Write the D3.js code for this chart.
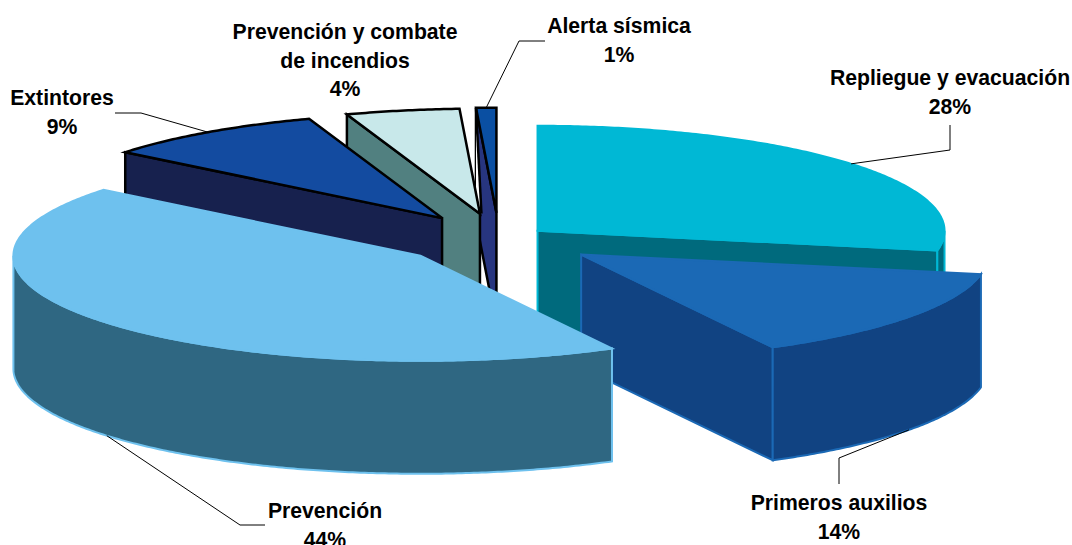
<!DOCTYPE html>
<html>
<head>
<meta charset="utf-8">
<script src="https://cdnjs.cloudflare.com/ajax/libs/d3/7.8.5/d3.min.js"></script>
<style>
	html, body { margin: 0; padding: 0; background: #fff; overflow: hidden; }
	text { font-family: "Liberation Sans", Arial, sans-serif; font-weight: bold; font-size: 21.2px; fill: #000; }
</style>
</head>
<body>
<script>
var categories = ["Repliegue y evacuación", "Primeros auxilios", "Prevención", "Extintores", "Prevención y combate de incendios", "Alerta sísmica"];
var values = [28, 14.2, 43.6, 8.9, 4.5, 0.8];
var labelLines = [["Repliegue y evacuación"], ["Primeros auxilios"], ["Prevención"], ["Extintores"], ["Prevención y combate", "de incendios"], ["Alerta sísmica"]];

// looks
var topColors = ["#00b8d5", "#1b69b5", "#6ec1ee", "#134ba0", "#c8e8ea", "#0a4fa2"];
var wallColors = ["#006a7d", "#114382", "#2f6782", "#17214e", "#518080", "#27357f"];
var strokeColors = ["#00b8d5", "#1b69b5", "#6ec1ee", "#000", "#000", "#000"];
var strokeWidths = [2, 2, 2, 2.5, 2.5, 2.5];

// pie layout, explode is how far each slice is pulled out of the middle
var width = 1072, height = 545;
var cx = 499, cy = 239, rx = 407, ry = 105, depth = 113;
var explode = [50, 102, 102, 99, 100, 102];
var drawOrder = [5, 4, 3, 0, 1, 2];

// label centre and first baseline, leader elbows (null = no leader)
var labelX = [950, 839, 325, 62, 345, 619];
var labelY = [85, 510, 518, 105, 39, 33];
var lineGap = 28.5;
var leaders = [[[950, 150], [950, 125]], [[839, 458], [839, 484]], [[240, 525], [265, 525]], [[141, 113], [115, 113]], null, [[519, 41], [545, 41]]];

var svg = d3.select("body").append("svg")
	.attr("width", width)
	.attr("height", height)
	.style("display", "block");

var pie = d3.pie().sort(null).startAngle(0).endAngle(2 * Math.PI);
var slices = pie(values);

var line = d3.line();

slices.forEach(function(d) {
	d.mid = (d.startAngle + d.endAngle) / 2;
	d.cx = cx + explode[d.index] * Math.sin(d.mid);
	d.cy = cy - explode[d.index] * Math.cos(d.mid) * ry / rx;
});

function rimPoint(d, a, drop) {
	return [d.cx + rx * Math.sin(a), d.cy - ry * Math.cos(a) + (drop || 0)];
}

function arcPoints(d, a0, a1, drop) {
	var n = Math.max(2, Math.ceil((a1 - a0) / 0.01));
	return d3.range(n + 1).map(function(i) {
		return rimPoint(d, a0 + (a1 - a0) * i / n, drop);
	});
}

function radialWall(d, a) {
	var p = rimPoint(d, a);
	return [[d.cx, d.cy], p, [p[0], p[1] + depth], [d.cx, d.cy + depth]];
}

function face(g, pts, fill, i) {
	g.append("path")
		.attr("d", line(pts) + "Z")
		.attr("fill", fill)
		.attr("stroke", strokeColors[i])
		.attr("stroke-width", strokeWidths[i])
		.attr("stroke-linejoin", "miter");
}

drawOrder.forEach(function(i) {
	var d = slices[i];
	var g = svg.append("g").attr("class", "slice");

	// only the walls that face the viewer
	if (Math.sin(d.startAngle) < -1e-6) face(g, radialWall(d, d.startAngle), wallColors[i], i);
	if (Math.sin(d.endAngle) > 1e-6) face(g, radialWall(d, d.endAngle), wallColors[i], i);

	var a0 = Math.max(d.startAngle, Math.PI / 2);
	var a1 = Math.min(d.endAngle, 3 * Math.PI / 2);
	if (a1 > a0) {
		face(g, arcPoints(d, a0, a1, 0).concat(arcPoints(d, a0, a1, depth).reverse()), wallColors[i], i);
	}

	face(g, [[d.cx, d.cy]].concat(arcPoints(d, d.startAngle, d.endAngle, 0)), topColors[i], i);

	// the thin last slice is cut back by the neighbour's corner
	if (i == 5) {
		var s = rimPoint(d, d.startAngle);
		var n = slices[4];
		g.append("path")
			.attr("d", line([s, [n.cx + 1.5, n.cy], [s[0], n.cy]]) + "Z")
			.attr("fill", "#fff");
		g.append("path")
			.attr("d", line([s, [n.cx + 1.5, n.cy]]))
			.attr("fill", "none")
			.attr("stroke", "#000")
			.attr("stroke-width", 2.5);
	}
});

// leaders start on the rim at the middle of the slice
slices.forEach(function(d) {
	var i = d.index;
	if (!leaders[i]) return;
	var front = Math.cos(d.mid) < 0;
	var start = rimPoint(d, d.mid, front ? depth : 0);
	svg.append("path")
		.attr("d", line([start].concat(leaders[i])))
		.attr("fill", "none")
		.attr("stroke", "#000")
		.attr("stroke-width", 1);
});

// labels
var total = d3.sum(values);
categories.forEach(function(c, i) {
	var lines = labelLines[i].concat([Math.round(values[i] / total * 100) + "%"]);
	svg.append("g").attr("class", "label").selectAll("text")
		.data(lines)
		.enter().append("text")
		.attr("x", labelX[i])
		.attr("y", function(t, k) { return labelY[i] + k * lineGap; })
		.attr("text-anchor", "middle")
		.text(function(t) { return t; });
});
</script>
</body>
</html>
